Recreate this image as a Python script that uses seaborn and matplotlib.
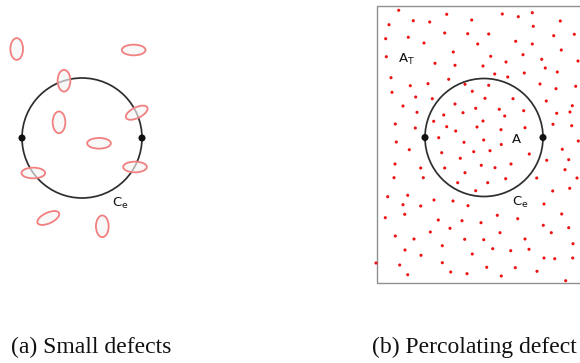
import matplotlib
matplotlib.use("Agg")
import matplotlib.pyplot as plt
from matplotlib.patches import Ellipse, Circle, Rectangle
import seaborn as sns
import pandas as pd

# ---- data (pixel-space diagram coordinates) ----
# panel (a): small defects (ellipses)
defect_x = [16.7, 133.7, 64.0, 136.7, 59.0, 99.0, 33.3, 135.0, 48.3, 102.3]
defect_y = [49.0, 50.0, 80.7, 112.7, 122.3, 143.3, 173.0, 167.0, 218.0, 226.3]
defect_w = [12.7, 23.7, 12.7, 23.7, 12.7, 23.7, 23.7, 23.7, 23.7, 12.7]
defect_h = [21.7, 10.7, 21.7, 10.7, 21.7, 10.7, 10.7, 10.7, 10.7, 21.7]
defect_angle = [0, 0, 0, -26, 0, 0, 0, 0, -25, 0]

# panel (b): percolating defect (points)
dot_x = [
    398.7, 446.7, 389.0, 413.3, 429.7, 471.7, 385.7, 408.3, 444.7, 467.7,
    424.0, 477.7, 453.3, 386.3, 435.0, 455.0, 391.0, 448.7, 428.0, 410.3,
    465.0, 392.0, 472.3, 415.7, 432.3, 455.0, 403.0, 475.7, 417.0, 443.7,
    463.0, 433.7, 395.3, 415.3, 446.7, 455.7, 477.0, 438.7, 396.3, 464.0,
    502.3, 518.3, 532.3, 560.3, 533.3, 488.7, 553.7, 574.3, 515.7, 532.3,
    561.3, 490.7, 523.0, 541.7, 578.0, 506.0, 483.0, 545.3, 494.7, 524.3,
    557.3, 507.7, 488.7, 540.0, 556.0, 575.7, 485.0, 513.0, 546.3, 572.3,
    499.3, 523.7, 556.7, 570.0, 504.7, 483.0, 553.0, 571.7, 501.0, 525.0,
    578.3, 483.7, 501.3,
    409.3, 441.7, 473.7, 460.3, 395.0, 420.7, 444.7, 394.0, 423.3, 465.0,
    457.7, 475.7, 387.7, 407.7, 434.0, 453.0, 403.0, 420.7, 468.0, 385.3,
    404.7, 438.3, 462.0, 450.0, 430.3, 395.3, 414.0, 464.7, 442.3, 405.0,
    421.0, 472.3, 376.0, 399.7, 442.3, 407.7, 450.7, 467.0,
    490.0, 529.3, 562.3, 546.7, 568.7, 481.3, 495.0, 511.0, 565.0, 536.7,
    577.0, 505.7, 487.7, 552.7, 569.7, 544.0, 497.3, 517.7, 561.7, 481.0,
    543.3, 568.7, 500.0, 551.3, 483.7, 525.0, 492.7, 510.7, 529.0, 573.0,
    544.0, 554.7, 572.7, 486.7, 515.3, 501.3, 537.0, 565.7,
]
dot_y = [
    10.3, 14.3, 24.7, 20.7, 22.0, 20.0, 38.7, 37.3, 33.0, 33.7,
    43.0, 44.0, 52.0, 56.7, 63.3, 65.3, 77.7, 79.3, 83.7, 85.7,
    84.3, 92.3, 91.3, 97.0, 98.7, 104.0, 106.0, 108.3, 112.3, 115.0,
    112.7, 121.3, 124.0, 128.0, 126.7, 131.0, 127.0, 137.7, 142.0, 142.3,
    14.0, 16.7, 12.7, 21.0, 26.3, 34.0, 35.7, 34.3, 41.3, 44.0,
    50.0, 56.3, 54.7, 59.3, 61.0, 62.0, 66.0, 68.0, 74.0, 73.0,
    72.0, 77.0, 85.3, 84.0, 88.7, 86.3, 98.3, 98.7, 101.0, 105.7,
    109.3, 110.7, 113.3, 112.0, 116.0, 121.0, 124.3, 125.7, 129.7, 127.7,
    141.0, 140.0, 144.5,
    149.7, 152.7, 151.7, 158.3, 164.0, 168.0, 168.0, 177.7, 177.7, 172.7,
    182.7, 190.7, 196.7, 195.3, 200.0, 201.0, 204.7, 206.0, 205.7, 217.7,
    214.3, 220.0, 220.7, 228.3, 232.0, 236.0, 239.0, 239.3, 245.7, 250.0,
    255.3, 254.0, 263.0, 265.0, 262.7, 274.7, 272.0, 273.7,
    150.7, 154.0, 149.3, 160.3, 159.7, 165.3, 167.7, 164.0, 169.7, 178.0,
    178.0, 178.7, 182.7, 191.0, 188.3, 204.0, 215.3, 218.7, 214.0, 222.7,
    225.3, 227.7, 232.7, 232.7, 239.7, 239.0, 248.7, 250.7, 249.3, 243.7,
    258.0, 258.7, 258.0, 267.3, 267.7, 276.0, 271.3, 280.7,
]

# circles C_e (center x, center y, radius) for panels (a) and (b)
circle_cx = [82.0, 484.0]
circle_cy = [138.0, 137.5]
circle_r = [60.0, 59.0]

# labels
label_text = [r"C$_\mathregular{e}$", r"A$_\mathregular{T}$", "A", r"C$_\mathregular{e}$"]
label_x = [111.5, 397.5, 512.0, 512.5]
label_y = [207.0, 63.3, 142.7, 205.5]

caption_text = ["(a) Small defects", "(b) Percolating defect"]
caption_x = [11.0, 371.5]
caption_y = [347.5, 347.5]

# ---- drawing ----
sns.set_theme(style="white")
plt.rcParams["font.family"] = ["DejaVu Sans"]
plt.rcParams["mathtext.default"] = "regular"

fig = plt.figure(figsize=(5.8, 3.63), dpi=100)
ax = fig.add_axes([0, 0, 1, 1])
ax.set_xlim(0, 580)
ax.set_ylim(363, 0)
ax.set_aspect("equal")
ax.axis("off")

# domain box of panel (b)
ax.add_patch(Rectangle((377.3, 5.7), 215, 277.6, fill=False,
                       edgecolor="#8f8f8f", linewidth=1.0, zorder=1))

# circles
for cx, cy, r in zip(circle_cx, circle_cy, circle_r):
    ax.add_patch(Circle((cx, cy), r, fill=False, edgecolor="#2e2e2e",
                        linewidth=1.25, zorder=2))

# endpoints on the circles
end_df = pd.DataFrame({
    "x": [cx + s * r for cx, r in zip(circle_cx, circle_r) for s in (-1, 1)],
    "y": [cy for cy in circle_cy for _ in (0, 1)],
})
sns.scatterplot(data=end_df, x="x", y="y", ax=ax, s=26, color="#111111",
                edgecolor="none", zorder=5, legend=False)

# small defects
for x, y, w, h, a in zip(defect_x, defect_y, defect_w, defect_h, defect_angle):
    ax.add_patch(Ellipse((x, y), w, h, angle=a, facecolor=(0.96, 0.96, 0.96, 0.65),
                         edgecolor="#f28080", linewidth=1.3, zorder=4))

# percolating defect points
dots_df = pd.DataFrame({"x": dot_x, "y": dot_y})
sns.scatterplot(data=dots_df, x="x", y="y", ax=ax, s=5, color="#ee1111",
                edgecolor="none", zorder=3, legend=False)

for t, x, y in zip(label_text, label_x, label_y):
    ax.text(x, y, t, fontsize=9.5, color="#111111", ha="left", va="baseline")

for t, x, y in zip(caption_text, caption_x, caption_y):
    ax.text(x, y, t, fontsize=17, family="Liberation Serif", color="#111111",
            ha="left", va="center")

ax.set_xlim(0, 580)
ax.set_ylim(363, 0)
fig.savefig("out.png", dpi=100)
